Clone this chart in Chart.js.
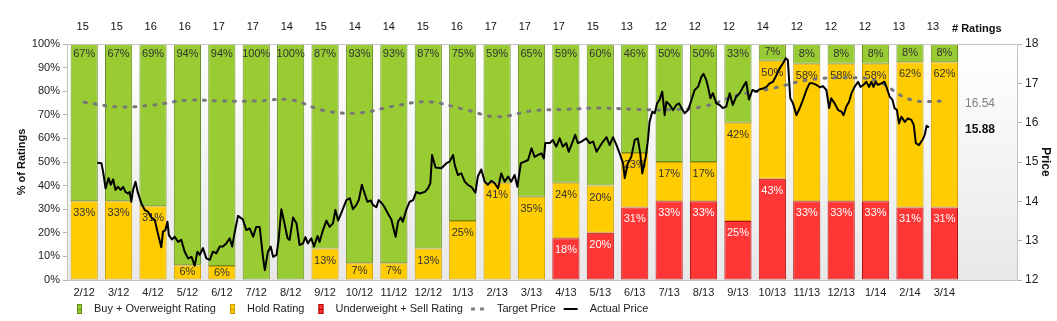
<!DOCTYPE html>
<html>
<head>
<meta charset="utf-8">
<script src="https://cdn.jsdelivr.net/npm/chart.js@4.4.1/dist/chart.umd.min.js"></script>
<style>
  body { margin: 0; background: #fff; }
  #wrap { width: 1057px; height: 321px; position: relative; }
</style>
</head>
<body>
<div id="wrap"><canvas id="chartRatings"></canvas></div>
<script>
// Meses (categorias)
const meses = ['2/12', '3/12', '4/12', '5/12', '6/12', '7/12', '8/12', '9/12', '10/12', '11/12', '12/12', '1/13', '2/13',
    '3/13', '4/13', '5/13', '6/13', '7/13', '8/13', '9/13', '10/13', '11/13', '12/13', '1/14', '2/14', '3/14'];

// Numero de analistas por tipo de recomendacion
const compra = [10, 10, 11, 15, 16, 17, 14, 13, 13, 13, 13, 12, 10, 11, 10, 9, 6, 6, 6, 4, 1, 1, 1, 1, 1, 1];
const mantener = [5, 5, 5, 1, 1, 0, 0, 2, 1, 1, 2, 4, 7, 6, 4, 3, 3, 2, 2, 5, 7, 7, 7, 7, 8, 8];
const venta = [0, 0, 0, 0, 0, 0, 0, 0, 0, 0, 0, 0, 0, 0, 3, 3, 4, 4, 4, 3, 6, 4, 4, 4, 4, 4];

// Precio objetivo promedio (uno por mes)
const precioObjetivo = [16.52, 16.40, 16.45, 16.57, 16.55, 16.55, 16.58, 16.30, 16.25, 16.42, 16.53, 16.35, 16.15,
    16.30, 16.34, 16.37, 16.34, 16.33, 16.41, 16.70, 16.87, 17.08, 17.14, 17.07, 16.59, 16.54];

// Precio real: [posicion en meses desde 2/12, precio]
const precioReal = [
[0.38,14.98],[0.50,14.97],[0.55,14.75],[0.62,14.33],[0.71,14.59],[0.77,14.42],[0.84,14.56],[0.91,14.29],[0.98,14.37],[1.06,14.29],
[1.13,14.37],[1.20,14.24],[1.27,14.20],[1.32,14.24],[1.37,13.99],[1.42,14.29],[1.49,14.50],[1.56,14.22],[1.66,13.95],[1.76,13.78],
[1.85,13.74],[1.95,13.59],[2.05,13.53],[2.14,13.19],[2.24,12.83],[2.29,13.23],[2.36,13.27],[2.42,13.48],[2.46,13.14],[2.55,13.03],
[2.63,13.10],[2.73,12.97],[2.82,13.02],[2.92,12.72],[3.02,12.55],[3.12,12.59],[3.21,12.36],[3.29,12.72],[3.36,12.64],[3.45,12.81],
[3.55,12.55],[3.65,12.51],[3.74,12.72],[3.84,12.68],[3.94,12.85],[4.03,12.85],[4.13,12.93],[4.23,13.06],[4.30,12.85],[4.37,13.19],
[4.47,13.63],[4.61,13.54],[4.71,13.27],[4.81,13.31],[4.91,13.10],[5.00,13.35],[5.10,13.35],[5.20,12.55],[5.25,12.25],[5.34,12.72],
[5.42,12.85],[5.49,12.59],[5.59,12.64],[5.65,13.02],[5.73,13.80],[5.81,13.48],[5.91,13.06],[5.97,13.02],[6.07,13.59],[6.17,13.44],
[6.26,12.89],[6.36,12.93],[6.43,13.09],[6.50,12.93],[6.60,13.06],[6.68,12.85],[6.78,13.12],[6.84,12.97],[6.94,13.27],[7.04,13.51],
[7.13,13.35],[7.23,13.44],[7.30,13.78],[7.38,13.51],[7.47,13.70],[7.62,14.03],[7.72,14.08],[7.81,13.80],[7.91,13.91],[7.98,14.03],
[8.07,14.42],[8.15,14.20],[8.23,13.99],[8.33,14.02],[8.39,13.91],[8.49,13.85],[8.56,14.03],[8.65,13.95],[8.73,13.85],[8.85,13.65],
[8.93,13.53],[9.00,13.27],[9.05,13.10],[9.12,13.48],[9.20,13.59],[9.26,13.48],[9.36,13.78],[9.46,13.99],[9.56,14.03],[9.65,14.24],
[9.75,14.20],[9.90,14.24],[9.99,14.33],[10.06,14.46],[10.11,15.18],[10.21,14.86],[10.38,14.84],[10.53,14.97],[10.62,15.01],[10.72,15.18],
[10.77,14.92],[10.86,14.67],[10.96,14.71],[11.06,14.50],[11.15,14.42],[11.25,14.37],[11.37,14.22],[11.44,14.63],[11.54,14.81],[11.64,14.50],
[11.73,14.42],[11.83,14.52],[11.93,14.46],[12.03,14.33],[12.12,14.71],[12.22,14.50],[12.32,14.63],[12.41,14.50],[12.51,14.67],[12.59,14.37],
[12.69,14.97],[12.80,15.01],[12.90,15.05],[13.00,15.35],[13.09,15.13],[13.19,15.18],[13.29,15.22],[13.36,15.09],[13.40,15.48],[13.53,15.48],
[13.62,15.56],[13.72,15.39],[13.82,15.60],[13.91,15.39],[14.01,15.48],[14.08,15.26],[14.18,15.48],[14.27,15.69],[14.35,15.48],[14.45,15.52],
[14.59,15.60],[14.69,15.48],[14.79,15.52],[14.89,15.26],[14.98,15.39],[15.08,15.52],[15.18,15.63],[15.27,15.43],[15.37,15.63],[15.47,15.43],
[15.56,15.22],[15.66,14.97],[15.71,14.59],[15.80,14.97],[15.90,15.13],[16.00,15.56],[16.09,15.60],[16.16,15.22],[16.22,14.71],[16.32,15.13],
[16.39,15.60],[16.43,16.02],[16.51,16.28],[16.58,16.24],[16.65,16.49],[16.72,16.58],[16.80,16.79],[16.87,16.19],[16.92,16.53],[17.02,16.45],
[17.11,16.32],[17.21,16.45],[17.29,16.49],[17.36,16.37],[17.45,16.24],[17.55,16.32],[17.65,16.58],[17.74,16.83],[17.84,16.91],[17.94,17.17],
[18.00,17.24],[18.08,17.08],[18.13,16.91],[18.20,16.62],[18.27,16.75],[18.37,16.49],[18.47,16.45],[18.56,16.37],[18.66,16.41],[18.76,16.75],
[18.85,16.45],[18.95,16.66],[19.05,16.75],[19.15,16.91],[19.24,17.04],[19.32,16.59],[19.42,16.83],[19.54,16.79],[19.63,16.85],[19.73,16.87],
[19.83,16.91],[19.92,17.00],[20.02,17.04],[20.12,17.21],[20.21,17.38],[20.31,17.51],[20.39,17.64],[20.45,17.59],[20.52,16.62],[20.60,16.49],
[20.70,16.19],[20.79,16.36],[20.89,16.58],[20.99,16.83],[21.08,17.00],[21.18,17.00],[21.28,16.96],[21.38,16.90],[21.47,16.93],[21.57,16.83],
[21.65,16.37],[21.71,16.62],[21.81,16.49],[21.91,16.32],[22.01,16.28],[22.07,16.19],[22.15,16.41],[22.23,16.53],[22.30,16.75],[22.39,16.91],
[22.49,17.04],[22.56,16.91],[22.65,16.96],[22.73,17.04],[22.81,16.91],[22.88,17.04],[22.94,16.91],[23.00,17.04],[23.07,16.96],[23.17,17.00],
[23.26,17.04],[23.33,16.87],[23.41,16.66],[23.49,16.58],[23.55,16.37],[23.62,16.32],[23.68,15.98],[23.75,16.15],[23.85,16.02],[23.94,16.11],
[24.04,16.07],[24.11,15.94],[24.17,15.48],[24.26,15.43],[24.36,15.56],[24.43,15.69],[24.48,15.92],[24.55,15.88]
];

const totales = meses.map((m, i) => compra[i] + mantener[i] + venta[i]);

function porcentajes(arr) {
    return arr.map((v, i) => ({ x: i, y: v > 0 ? v / totales[i] * 100 : null }));
}

const VERDE = '#99cc33', AMARILLO = '#ffcc00', ROJO = '#ff3636';
Chart.defaults.font.family = '"Liberation Sans", Arial, sans-serif';
Chart.defaults.font.size = 11;
Chart.defaults.color = '#222';

// Fondo degradado del area del grafico
const fondoPlugin = {
    id: 'fondo',
    beforeDraw(chart) {
        const { ctx, chartArea: a } = chart;
        const g = ctx.createLinearGradient(0, a.top, 0, a.bottom);
        g.addColorStop(0, '#ffffff');
        g.addColorStop(1, '#e8e8e8');
        ctx.save();
        ctx.fillStyle = g;
        ctx.fillRect(a.left, a.top, a.right - a.left, a.bottom - a.top);
        ctx.restore();
    },
    afterDraw(chart) {
        const { ctx, chartArea: a } = chart;
        ctx.save();
        ctx.strokeStyle = '#c4c4c4';
        ctx.lineWidth = 1;
        ctx.beginPath();
        ctx.moveTo(a.left, a.top + 0.5);
        ctx.lineTo(a.right, a.top + 0.5);
        ctx.stroke();
        ctx.restore();
    }
};

// Etiquetas de porcentaje dentro de cada segmento
const etiquetasPlugin = {
    id: 'etiquetas',
    afterDatasetDraw(chart, args) {
        const ds = chart.data.datasets[args.index];
        if (ds.type !== 'bar') return;
        const ctx = chart.ctx;
        ctx.save();
        ctx.font = '11px "Liberation Sans", Arial, sans-serif';
        ctx.textAlign = 'center';
        ctx.textBaseline = 'middle';
        ctx.fillStyle = ds.colorTexto;
        args.meta.data.forEach((bar, i) => {
            const v = ds.data[i].y;
            if (v === null) return;
            const top = Math.min(bar.y, bar.base);
            const h = Math.abs(bar.base - bar.y);
            ctx.fillText(Math.round(v) + '%', bar.x, top + Math.min(ds.offsetTexto, h / 2));
        });
        ctx.restore();
    }
};

// Fila superior (# Ratings), valores finales y leyenda
const extrasPlugin = {
    id: 'extras',
    afterDraw(chart) {
        const { ctx, chartArea: a, scales } = chart;
        ctx.save();
        ctx.textBaseline = 'middle';
        ctx.font = '11px "Liberation Sans", Arial, sans-serif';
        ctx.fillStyle = '#111';
        ctx.textAlign = 'center';
        // la fila de totales tiene un paso un poco menor que las barras
        totales.forEach((t, i) => ctx.fillText(String(t), scales.x.getPixelForValue(i) - 1.5 - i * 0.4, a.top - 17));
        ctx.textAlign = 'left';
        ctx.font = 'bold 11px "Liberation Sans", Arial, sans-serif';
        ctx.fillText('# Ratings', 952, a.top - 15);

        // valores finales junto al eje derecho
        const ultObj = precioObjetivo[precioObjetivo.length - 1];
        const ultReal = precioReal[precioReal.length - 1][1];
        ctx.font = '12px "Liberation Sans", Arial, sans-serif';
        ctx.fillStyle = '#808080';
        ctx.fillText(ultObj.toFixed(2), 965, scales.y1.getPixelForValue(ultObj) + 2);
        ctx.font = 'bold 12px "Liberation Sans", Arial, sans-serif';
        ctx.fillStyle = '#111';
        ctx.fillText(ultReal.toFixed(2), 965, scales.y1.getPixelForValue(ultReal) + 2);

        // leyenda
        const items = [
            { texto: 'Buy + Overweight Rating', tipo: 'caja', color: VERDE, borde: '#5f8a1a' },
            { texto: 'Hold Rating', tipo: 'caja', color: AMARILLO, borde: '#c99a00' },
            { texto: 'Underweight + Sell Rating', tipo: 'caja', color: ROJO, borde: '#b00000' },
            { texto: 'Target Price', tipo: 'punteada', color: '#808080' },
            { texto: 'Actual Price', tipo: 'linea', color: '#000' }
        ];
        const y = 309;
        let x = 77;
        ctx.font = '11px "Liberation Sans", Arial, sans-serif';
        items.forEach(it => {
            if (it.tipo === 'caja') {
                ctx.fillStyle = it.color;
                ctx.fillRect(x, y - 5, 5, 10);
                ctx.strokeStyle = it.borde;
                ctx.lineWidth = 1;
                ctx.strokeRect(x + 0.5, y - 4.5, 4, 9);
                ctx.beginPath();
                ctx.moveTo(x, y + 0.5);
                ctx.lineTo(x + 5, y + 0.5);
                ctx.stroke();
                x += 17;
            } else {
                x -= 6;
                ctx.strokeStyle = it.color;
                ctx.lineWidth = it.tipo === 'linea' ? 2 : 3;
                ctx.setLineDash(it.tipo === 'linea' ? [] : [4, 5]);
                ctx.beginPath();
                ctx.moveTo(x, y);
                ctx.lineTo(x + 14, y);
                ctx.stroke();
                ctx.setLineDash([]);
                x += 26;
            }
            ctx.fillStyle = '#222';
            ctx.fillText(it.texto, x, y);
            x += ctx.measureText(it.texto).width + 14;
        });
        ctx.restore();
    }
};

new Chart(document.getElementById('chartRatings'), {
    data: {
        datasets: [
            { type: 'bar', label: 'Underweight + Sell Rating', data: porcentajes(venta), backgroundColor: ROJO,
              borderColor: '#b81010', borderWidth: 1, borderSkipped: false, colorTexto: '#fff', offsetTexto: 12 },
            { type: 'bar', label: 'Hold Rating', data: porcentajes(mantener), backgroundColor: AMARILLO,
              borderColor: '#d4a000', borderWidth: 1, borderSkipped: false, colorTexto: '#333', offsetTexto: 12 },
            { type: 'bar', label: 'Buy + Overweight Rating', data: porcentajes(compra), backgroundColor: VERDE,
              borderColor: '#6a8f22', borderWidth: 1, borderSkipped: false, colorTexto: '#333', offsetTexto: 10 },
            { type: 'line', label: 'Target Price', yAxisID: 'y1', order: -1,
              data: precioObjetivo.map((p, i) => ({ x: i, y: p })),
              borderColor: '#777', borderWidth: 3, borderDash: [2, 8], borderCapStyle: 'round',
              pointRadius: 0, tension: 0.4, fill: false },
            { type: 'line', label: 'Actual Price', yAxisID: 'y1', order: -2,
              data: precioReal.map(([m, p]) => ({ x: m, y: p })),
              borderColor: '#000', borderWidth: 2, borderJoinStyle: 'round',
              pointRadius: 0, tension: 0, fill: false }
        ]
    },
    options: {
        responsive: true,
        maintainAspectRatio: false,
        animation: false,
        layout: { padding: { top: 44, left: 0, right: 0, bottom: 0 } },
        datasets: { bar: { categoryPercentage: 1, barPercentage: 0.79 } },
        plugins: { legend: { display: false }, tooltip: { enabled: false } },
        scales: {
            x: {
                type: 'linear',
                min: -0.5,
                max: 27.11,
                offset: false,
                stacked: true,
                grid: { display: false, drawTicks: false, offset: false },
                border: { color: '#c4c4c4' },
                afterBuildTicks: (s) => { s.ticks = meses.map((m, i) => ({ value: i })); },
                ticks: { autoSkip: false, maxRotation: 0, padding: 6, callback: (v, i) => meses[i] },
                afterFit: (s) => { s.height = 41; }
            },
            y: {
                stacked: true,
                min: 0,
                max: 100,
                ticks: { stepSize: 10, padding: 3, callback: (v) => v + '%' },
                grid: { drawOnChartArea: false, tickLength: 4, color: '#b0b0b0' },
                border: { color: '#c4c4c4' },
                title: { display: true, text: '% of Ratings', font: { weight: 'bold', size: 11 }, color: '#111', padding: { top: 15, bottom: 0 } },
                afterFit: (s) => { s.width = 67; }
            },
            y1: {
                position: 'right',
                min: 12,
                max: 18,
                ticks: { stepSize: 1, padding: 3, font: { size: 12 } },
                grid: { drawOnChartArea: false, tickLength: 5, color: '#b0b0b0' },
                border: { color: '#c4c4c4' },
                title: { display: true, text: 'Price', font: { weight: 'bold', size: 12 }, color: '#111', padding: { top: 4, bottom: 0 } },
                afterFit: (s) => { s.width = 40; }
            }
        }
    },
    plugins: [fondoPlugin, etiquetasPlugin, extrasPlugin]
});
</script>
</body>
</html>
